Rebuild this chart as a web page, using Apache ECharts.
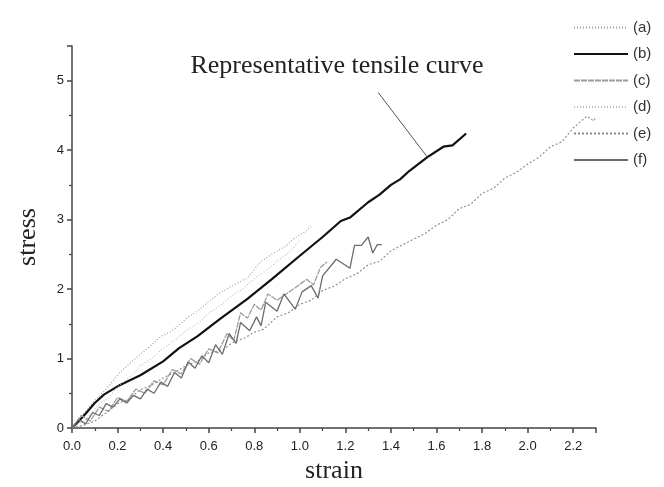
<!DOCTYPE html>
<html>
<head>
<meta charset="utf-8">
<script src="https://cdn.jsdelivr.net/npm/echarts@6/dist/echarts.min.js"></script>
<style>
  html, body { margin: 0; padding: 0; background: #fff; }
  #chart { width: 664px; height: 487px; }
</style>
</head>
<body>
<div id="chart"></div>
<script>
// [strain, stress] pairs
var curveA = [[0,0],[0.05,0.2],[0.1,0.4],[0.15,0.56],[0.21,0.8],[0.26,0.95],[0.3,1.06],[0.35,1.2],[0.39,1.32],[0.43,1.38],[0.47,1.48],[0.51,1.6],[0.55,1.68],[0.6,1.82],[0.65,1.95],[0.7,2.04],[0.77,2.16],[0.83,2.4],[0.9,2.55],[0.94,2.62],[0.97,2.72],[1.02,2.82],[1.05,2.9]];
var curveB = [[0,0],[0.05,0.17],[0.1,0.36],[0.14,0.48],[0.2,0.6],[0.3,0.76],[0.4,0.96],[0.47,1.15],[0.55,1.32],[0.65,1.57],[0.77,1.86],[0.88,2.15],[1.0,2.48],[1.1,2.75],[1.18,2.98],[1.22,3.03],[1.3,3.25],[1.35,3.36],[1.4,3.5],[1.44,3.58],[1.48,3.7],[1.56,3.9],[1.63,4.05],[1.67,4.07],[1.73,4.24]];
var curveC = [[0,0],[0.04,0.18],[0.08,0.1],[0.12,0.3],[0.16,0.24],[0.2,0.44],[0.24,0.38],[0.28,0.56],[0.32,0.5],[0.36,0.68],[0.4,0.62],[0.44,0.84],[0.48,0.78],[0.52,1.0],[0.56,0.92],[0.6,1.14],[0.64,1.08],[0.68,1.36],[0.71,1.26],[0.74,1.66],[0.77,1.58],[0.8,1.78],[0.83,1.7],[0.86,1.93],[0.9,1.84],[0.94,1.93],[0.98,2.02],[1.03,2.14],[1.06,2.06],[1.09,2.31],[1.12,2.39]];
var curveD = [[0,0],[0.06,0.12],[0.12,0.35],[0.16,0.42],[0.2,0.6],[0.25,0.72],[0.3,0.9],[0.35,1.0],[0.4,1.15],[0.45,1.26],[0.5,1.4],[0.55,1.5],[0.6,1.65],[0.65,1.76],[0.7,1.9],[0.75,2.0],[0.8,2.15],[0.85,2.26],[0.9,2.4],[0.95,2.52],[1.0,2.7]];
var curveE = [[0,0],[0.05,0.04],[0.1,0.1],[0.15,0.22],[0.2,0.35],[0.25,0.42],[0.3,0.55],[0.35,0.62],[0.4,0.72],[0.45,0.8],[0.5,0.9],[0.55,0.96],[0.6,1.08],[0.66,1.12],[0.7,1.22],[0.76,1.3],[0.8,1.38],[0.84,1.42],[0.9,1.6],[0.95,1.66],[1.0,1.78],[1.05,1.84],[1.1,1.98],[1.15,2.04],[1.2,2.15],[1.25,2.22],[1.3,2.35],[1.35,2.4],[1.4,2.55],[1.44,2.62],[1.5,2.72],[1.55,2.8],[1.6,2.92],[1.65,3.0],[1.7,3.16],[1.75,3.22],[1.8,3.38],[1.85,3.45],[1.9,3.6],[1.95,3.68],[2.0,3.8],[2.05,3.9],[2.1,4.05],[2.15,4.12],[2.2,4.32],[2.26,4.49],[2.29,4.42],[2.3,4.48]];
var curveF = [[0,0],[0.03,0.12],[0.06,0.06],[0.09,0.22],[0.12,0.18],[0.15,0.35],[0.18,0.3],[0.21,0.42],[0.24,0.36],[0.27,0.47],[0.3,0.42],[0.33,0.56],[0.36,0.5],[0.39,0.66],[0.42,0.6],[0.45,0.8],[0.48,0.72],[0.51,0.95],[0.54,0.86],[0.57,1.04],[0.6,0.94],[0.63,1.2],[0.66,1.06],[0.69,1.36],[0.72,1.22],[0.74,1.52],[0.78,1.4],[0.81,1.6],[0.83,1.47],[0.85,1.81],[0.9,1.68],[0.93,1.93],[0.98,1.71],[1.01,1.96],[1.05,2.05],[1.08,1.87],[1.1,2.19],[1.16,2.43],[1.22,2.3],[1.24,2.63],[1.27,2.63],[1.3,2.75],[1.32,2.52],[1.34,2.64],[1.36,2.64]];
var legendNames = ['(a)', '(b)', '(c)', '(d)', '(e)', '(f)'];
var leaderLine = [[1.344, 4.83], [1.56, 3.9]];
var noteText = 'Representative tensile curve';

var chart = echarts.init(document.getElementById('chart'));

function mkSeries(name, data, color, width, type) {
    return {
        name: name,
        type: 'line',
        data: data,
        symbol: 'none',
        smooth: false,
        lineStyle: { color: color, width: width, type: type },
        itemStyle: { color: color }
    };
}

var series = [
    mkSeries(legendNames[0], curveA, '#9a9a9a', 1.1, [1, 2]),
    mkSeries(legendNames[1], curveB, '#111', 2.2, 'solid'),
    mkSeries(legendNames[2], curveC, '#9c9c9c', 1.3, [6, 1]),
    mkSeries(legendNames[3], curveD, '#bdbdbd', 1.1, [1, 2]),
    mkSeries(legendNames[4], curveE, '#8a8a8a', 1.1, [2, 2]),
    mkSeries(legendNames[5], curveF, '#6c6c6c', 1.3, 'solid')
];
series[1].markLine = {
    silent: true,
    symbol: ['none', 'none'],
    label: { show: false },
    lineStyle: { color: '#555', width: 1, type: 'solid' },
    data: [[{ coord: leaderLine[0] }, { coord: leaderLine[1] }]]
};

var axisColor = '#444';
var option = {
    backgroundColor: '#fff',
    animation: false,
    grid: { left: 72, right: 68, top: 46, bottom: 59, containLabel: false, outerBoundsMode: 'none' },
    legend: {
        orient: 'vertical',
        left: 568,
        top: 15,
        itemWidth: 54,
        itemHeight: 14,
        itemGap: 11.5,
        data: legendNames,
        itemStyle: { opacity: 0 },
        textStyle: { fontFamily: 'Liberation Sans', fontSize: 15, color: '#333' }
    },
    graphic: [{
        type: 'text',
        x: 337,
        y: 66,
        style: {
            text: noteText,
            font: '26px "Liberation Serif"',
            fill: '#222',
            textAlign: 'center',
            textVerticalAlign: 'middle'
        }
    }],
    xAxis: {
        type: 'value',
        min: 0,
        max: 2.3,
        interval: 0.2,
        name: 'strain',
        nameLocation: 'middle',
        nameGap: 26,
        nameTextStyle: { fontFamily: 'Liberation Serif', fontSize: 26, color: '#222' },
        axisLine: { onZero: false, lineStyle: { color: axisColor, width: 1.5 } },
        axisTick: { inside: false, length: 5, lineStyle: { color: axisColor, width: 1.5 } },
        minorTick: { show: true, splitNumber: 2, length: 3, lineStyle: { color: axisColor, width: 1.2 } },
        axisLabel: {
            margin: 12,
            fontFamily: 'Liberation Sans',
            fontSize: 13,
            color: '#222',
            showMaxLabel: false,
            formatter: function (v) { return v.toFixed(1); }
        },
        splitLine: { show: false }
    },
    yAxis: {
        type: 'value',
        min: 0,
        max: 5.5,
        interval: 1,
        name: 'stress',
        nameLocation: 'middle',
        nameGap: 31,
        nameTextStyle: { fontFamily: 'Liberation Serif', fontSize: 26, color: '#222' },
        axisLine: { show: true, onZero: false, lineStyle: { color: axisColor, width: 1.5 } },
        axisTick: { show: true, inside: false, length: 5, lineStyle: { color: axisColor, width: 1.5 } },
        minorTick: { show: true, splitNumber: 2, length: 3, lineStyle: { color: axisColor, width: 1.2 } },
        axisLabel: {
            margin: 8,
            fontFamily: 'Liberation Sans',
            fontSize: 13,
            color: '#222',
            showMaxLabel: false
        },
        splitLine: { show: false }
    },
    series: series
};

option && chart.setOption(option);
</script>
</body>
</html>
